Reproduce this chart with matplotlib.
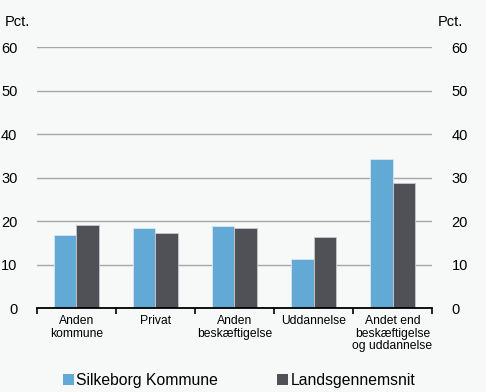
import matplotlib
matplotlib.use("Agg")
import matplotlib.pyplot as plt
import numpy as np
from matplotlib.patches import Patch

plt.rcParams['font.family'] = ['Liberation Sans', 'DejaVu Sans']

categories = ["Anden\nkommune", "Privat", "Anden\nbeskæftigelse", "Uddannelse",
              "Andet end\nbeskæftigelse\nog uddannelse"]
silkeborg = [16.9, 18.4, 18.8, 11.3, 34.2]
lands = [19.0, 17.3, 18.4, 16.3, 28.7]
yticks = [0, 10, 20, 30, 40, 50, 60]
series_names = ["Silkeborg Kommune", "Landsgennemsnit"]

bg = "#f7f9f9"
blue = "#63a9d5"
dark = "#505156"

fig = plt.figure(figsize=(4.86, 3.92), dpi=100, facecolor=bg)
ax = fig.add_axes([0.076, 0.214, 0.813, 0.666], facecolor=bg)

x = np.arange(len(categories))
w = 0.285
ax.bar(x - w/2, silkeborg, w, color=blue, edgecolor="#d8e6ef", linewidth=0.6, zorder=3)
ax.bar(x + w/2, lands, w, color=dark, edgecolor="#c8c8cc", linewidth=0.6, zorder=3)

ax.set_xlim(-0.5, len(categories) - 0.5)
ax.set_ylim(0, 60)
ax.set_yticks(yticks)
ax.yaxis.grid(True, color="#a6a6a6", linewidth=1.0, zorder=0)
ax.set_axisbelow(True)
for s in ["top", "left", "right"]:
    ax.spines[s].set_visible(False)
ax.spines["bottom"].set_color("black")
ax.spines["bottom"].set_linewidth(1.3)
ax.spines["bottom"].set_zorder(5)

ax.set_xticks(np.arange(-0.5, len(categories), 1.0))
ax.set_xticklabels([])
ax.tick_params(axis="x", which="major", length=4, width=1.2, color="black", direction="out")
ax.set_xticks(x, minor=True)
ax.set_xticklabels(categories, minor=True, fontsize=8.7, linespacing=1.05)
ax.tick_params(axis="x", which="minor", length=0, pad=5)
ax.tick_params(axis="y", length=0, pad=14, labelsize=10.5)

ax2 = ax.twinx()
ax2.set_ylim(0, 60)
ax2.set_yticks(yticks)
for s in ["top", "left", "right", "bottom"]:
    ax2.spines[s].set_visible(False)
ax2.tick_params(axis="y", length=0, pad=14, labelsize=10.5)

fig.text(0.010, 0.945, "Pct.", fontsize=10.5, ha="left", va="center")
fig.text(0.900, 0.945, "Pct.", fontsize=10.5, ha="left", va="center")

handles = [Patch(facecolor=blue, edgecolor="none"), Patch(facecolor=dark, edgecolor="none")]
fig.legend(handles, series_names, loc="center", bbox_to_anchor=(0.492, 0.030), ncol=2,
           frameon=False, fontsize=11.3, handlelength=0.7, handleheight=0.7,
           handletextpad=0.12, columnspacing=3.8)

fig.savefig("out.png", dpi=100, facecolor=bg)
